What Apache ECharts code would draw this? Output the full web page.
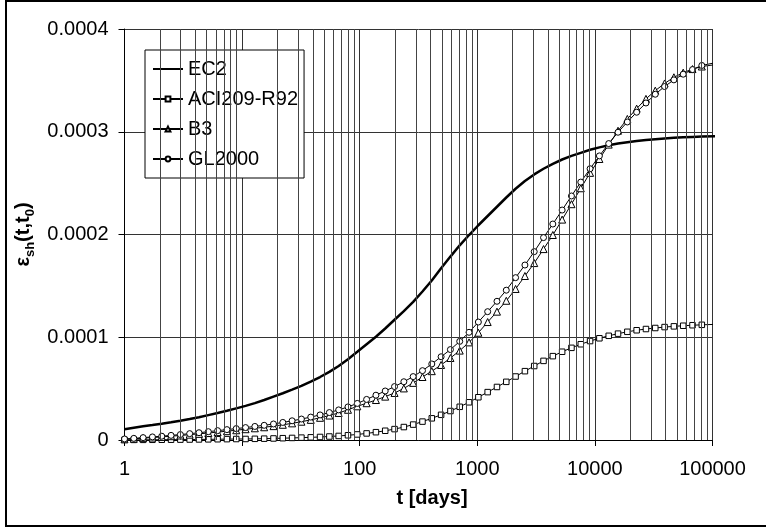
<!DOCTYPE html>
<html>
<head>
<meta charset="utf-8">
<script src="https://cdn.jsdelivr.net/npm/echarts@6/dist/echarts.min.js"></script>
<style>
  html, body { margin: 0; padding: 0; background: #fff; }
  #chart { width: 766px; height: 529px; }
</style>
</head>
<body>
<div id="chart"></div>
<script>
// time points t [days] (sampling grid)
const tDays = [1, 1.2, 1.44, 1.728, 2.074, 2.488, 2.986, 3.583, 4.300, 5.160,
  6.192, 7.430, 8.916, 10.70, 12.84, 15.41, 18.49, 22.19, 26.62, 31.95,
  38.34, 46.01, 55.21, 66.25, 79.50, 95.40, 114.5, 137.4, 164.8, 197.8,
  237.4, 284.9, 341.8, 410.2, 492.2, 590.7, 708.8, 850.6, 1021, 1225,
  1470, 1764, 2116, 2540, 3048, 3657, 4389, 5266, 6320, 7584,
  9100, 10921, 13105, 15726, 18871, 22645, 27174, 32609, 39130, 46956,
  56348, 67617, 81140, 108600];

// shrinkage strain values, in units of 1e-6
const ec2 = [10.4, 12.0, 13.3, 14.5, 15.8, 17.2, 18.7, 20.4, 22.2, 24.2,
  26.2, 28.4, 30.8, 33.2, 35.9, 38.9, 42.2, 45.5, 49.0, 52.6,
  56.8, 61.3, 66.3, 72.0, 78.5, 85.8, 93.2, 100.5, 108.5, 117.0,
  125.5, 134.5, 144.5, 155.3, 167.2, 178.5, 189.5, 199.5, 209, 218,
  227, 236, 244.5, 252, 258.5, 264, 268.8, 273, 276.5, 279.5,
  282.5, 284.8, 286.8, 288.5, 289.8, 291, 292, 292.8, 293.5, 294.1,
  294.6, 295, 295.3, 295.7];
const aci = [0.1, 0.12, 0.15, 0.2, 0.25, 0.3, 0.38, 0.46, 0.55, 0.65,
  0.75, 0.85, 0.95, 1.0, 1.15, 1.3, 1.5, 1.75, 2.0, 2.3,
  2.6, 2.95, 3.4, 3.95, 4.6, 5.4, 6.4, 7.6, 9.0, 10.6,
  12.6, 15.0, 17.9, 21.1, 24.5, 28.2, 32.3, 36.7, 41.6, 46.6,
  51.6, 56.6, 61.8, 67.0, 72.0, 77.0, 81.6, 85.9, 89.7, 93.2,
  96.3, 99.0, 101.4, 103.5, 105.3, 106.8, 108.0, 109.0, 109.9, 110.6,
  111.2, 111.7, 112.1, 112.6];
const b3 = [0.7, 1.2, 1.8, 2.4, 3.0, 3.7, 4.4, 5.2, 6.0, 6.8,
  7.7, 8.6, 9.5, 10.5, 11.4, 12.4, 13.5, 14.8, 16.2, 17.8,
  19.6, 21.6, 23.8, 26.3, 29.4, 32.8, 35.8, 38.9, 42.2, 45.8,
  50.2, 55.6, 61.3, 67.0, 73.0, 79.8, 87.0, 95.0, 104.4, 114.8,
  124.9, 135.5, 147.0, 159.6, 172.2, 185.8, 199.5, 214.5, 229.5, 245.0,
  260, 273.5, 287.5, 301, 312.5, 322.5, 332, 340, 347, 353,
  357.5, 361, 363.5, 365.5];
const gl2000 = [1.0, 1.6, 2.3, 3.0, 3.7, 4.5, 5.3, 6.2, 7.1, 8.1,
  9.1, 10.1, 11.1, 12.1, 13.2, 14.3, 15.6, 17.1, 18.7, 20.4,
  22.3, 24.4, 26.7, 29.3, 32.2, 35.6, 39.5, 43.6, 47.7, 52.0,
  56.7, 61.7, 67.5, 74.0, 81.0, 88.0, 96.0, 104.8, 114.8, 124.9,
  135.0, 145.8, 158.0, 170.3, 183.3, 197.0, 210.2, 223.8, 237.5, 251.0,
  264, 276.5, 288.5, 299.5, 309.5, 319, 328, 336.5, 344, 350.5,
  356, 360.5, 364.5, 367.5];

const seriesNames = ['EC2', 'ACI209-R92', 'B3', 'GL2000'];
const xTickLabels = ['1', '10', '100', '1000', '10000', '100000'];
const yTickLabels = ['0', '0.0001', '0.0002', '0.0003', '0.0004'];

const FONT = '"Liberation Sans", Arial, sans-serif';

function buildData(vals) {
  return vals.map((v, i) => {
    const item = { value: [tDays[i], v * 1e-6] };
    if (i === vals.length - 1) item.symbol = 'none';
    return item;
  });
}

// minor log grid positions 2..9 within each decade
const minorGrid = [];
for (let d = 0; d < 5; d++) {
  for (let m = 2; m <= 9; m++) minorGrid.push({ xAxis: m * Math.pow(10, d) });
}

const markerSeries = (name, vals, symbol, size) => ({
  name: name,
  type: 'line',
  data: buildData(vals),
  symbol: symbol,
  symbolSize: size,
  showSymbol: true,
  clip: false,
  smooth: false,
  lineStyle: { color: '#000', width: 1 },
  itemStyle: { color: '#fff', borderColor: '#000', borderWidth: 1 },
  emphasis: { disabled: true },
  z: 3
});

const chart = echarts.init(document.getElementById('chart'), null, { renderer: 'canvas' });
chart.setOption({
  animation: false,
  backgroundColor: '#fff',
  textStyle: { fontFamily: FONT, color: '#000' },
  grid: { left: 124.5, right: 53.5, top: 29, bottom: 89, containLabel: false },
  legend: {
    data: [
      { name: 'EC2', itemStyle: { opacity: 0 } },
      'ACI209-R92', 'B3', 'GL2000'
    ],
    orient: 'vertical',
    left: 145,
    top: 50,
    itemWidth: 30,
    itemHeight: 6,
    itemGap: 10,
    padding: [9, 6, 9, 7],
    backgroundColor: '#fff',
    borderColor: '#000',
    borderWidth: 1,
    borderRadius: 0,
    textStyle: { fontFamily: FONT, fontSize: 20, color: '#000' },
    selectedMode: false
  },
  xAxis: {
    type: 'log',
    logBase: 10,
    min: 1,
    max: 100000,
    name: 't [days]',
    nameLocation: 'middle',
    nameGap: 48,
    nameTextStyle: { fontFamily: FONT, fontSize: 20, fontWeight: 'bold', color: '#000', padding: [0, 0, 0, 27] },
    axisLine: { show: true, lineStyle: { color: '#000', width: 1 } },
    axisTick: { show: true, length: 6, lineStyle: { color: '#000' } },
    axisLabel: {
      fontFamily: FONT, fontSize: 20, color: '#000', margin: 19,
      formatter: v => xTickLabels[Math.round(Math.log10(v))]
    },
    splitLine: { show: true, lineStyle: { color: '#333', width: 1 } },
    minorTick: { show: false },
    minorSplitLine: { show: false }
  },
  yAxis: {
    type: 'value',
    min: 0,
    max: 0.0004,
    interval: 0.0001,
    name: '{n|ε}{s|sh}{n|(t,t}{s|0}{n|)}',
    nameLocation: 'middle',
    nameRotate: 90,
    nameGap: 84,
    nameTextStyle: {
      fontFamily: FONT, color: '#000',
      rich: {
        n: { fontFamily: FONT, fontSize: 20, fontWeight: 'bold', color: '#000', lineHeight: 26, verticalAlign: 'middle' },
        s: { fontFamily: FONT, fontSize: 13, fontWeight: 'bold', color: '#000', lineHeight: 26, verticalAlign: 'bottom' }
      }
    },
    axisLine: { show: true, lineStyle: { color: '#000', width: 1 } },
    axisTick: { show: true, length: 6, lineStyle: { color: '#000' } },
    axisLabel: {
      fontFamily: FONT, fontSize: 20, color: '#000', margin: 16,
      formatter: v => yTickLabels[Math.round(v / 0.0001)]
    },
    splitLine: { show: true, lineStyle: { color: '#333', width: 1 } }
  },
  series: [
    {
      name: '_grid',
      type: 'line',
      data: [[1, 0]],
      symbol: 'none',
      lineStyle: { opacity: 0 },
      silent: true,
      z: 1,
      markLine: {
        silent: true,
        symbol: ['none', 'none'],
        label: { show: false },
        lineStyle: { color: '#444', width: 1, type: 'solid' },
        emphasis: { disabled: true },
        animation: false,
        data: minorGrid
      }
    },
    {
      name: 'EC2',
      type: 'line',
      data: buildData(ec2),
      symbol: 'none',
      showSymbol: false,
      clip: false,
      lineStyle: { color: '#000', width: 2.5 },
      itemStyle: { color: '#000' },
      emphasis: { disabled: true },
      z: 3
    },
    markerSeries('ACI209-R92', aci, 'rect', 5.5),
    markerSeries('B3', b3, 'triangle', 7),
    markerSeries('GL2000', gl2000, 'circle', 6)
  ],
  graphic: [
    {
      type: 'rect',
      silent: true,
      z: 100,
      shape: { x: 6, y: 1, width: 780, height: 525 },
      style: { fill: 'none', stroke: '#000', lineWidth: 2 }
    }
  ]
});
</script>
</body>
</html>
